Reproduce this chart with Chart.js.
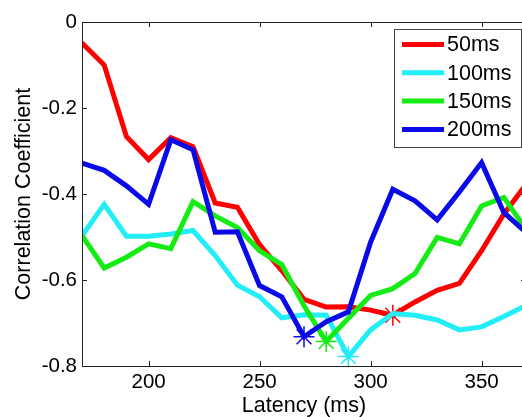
<!DOCTYPE html>
<html>
<head>
<meta charset="utf-8">
<script src="https://cdn.jsdelivr.net/npm/chart.js@4/dist/chart.umd.min.js"></script>
<style>
  html, body { margin: 0; padding: 0; background: #fff; overflow: hidden; }
  #wrap { width: 522px; height: 417px; overflow: hidden; position: relative; }
</style>
</head>
<body>
<div id="wrap"><canvas id="latencyChart" width="540" height="417"></canvas></div>
<script>
// latency (ms) and correlation coefficient per window length
const latency = [170, 180, 190, 200, 210, 220, 230, 240, 250, 260, 270,
                 280, 290, 300, 310, 320, 330, 340, 350, 360, 370];
const corr50  = [-0.049, -0.100, -0.266, -0.320, -0.269, -0.290, -0.421, -0.431, -0.518, -0.578, -0.645,
                 -0.663, -0.662, -0.670, -0.682, -0.651, -0.624, -0.608, -0.532, -0.447, -0.378];
const corr100 = [-0.497, -0.424, -0.498, -0.498, -0.493, -0.485, -0.543, -0.612, -0.639, -0.688, -0.681,
                 -0.682, -0.778, -0.716, -0.678, -0.682, -0.693, -0.716, -0.709, -0.685, -0.659];
const corr150 = [-0.497, -0.572, -0.547, -0.516, -0.527, -0.418, -0.451, -0.478, -0.532, -0.564, -0.660,
                 -0.743, -0.689, -0.636, -0.620, -0.585, -0.501, -0.516, -0.428, -0.408, -0.482];
const corr200 = [-0.328, -0.345, -0.381, -0.424, -0.274, -0.297, -0.489, -0.488, -0.613, -0.639, -0.732,
                 -0.697, -0.674, -0.512, -0.389, -0.416, -0.460, -0.395, -0.327, -0.443, -0.489];

const seriesLabels = ['50ms', '100ms', '150ms', '200ms'];
const seriesValues = [corr50, corr100, corr150, corr200];
const seriesColors = ['#ff0000', '#22eef8', '#14ec14', '#0a0ae8'];

const xTickValues = [200, 250, 300, 350];
const yTickValues = [0, -0.2, -0.4, -0.6, -0.8];

const fontFamily = '"Liberation Sans", Arial, Helvetica, sans-serif';

// index of the lowest value -> star marker there
function minIndex(arr) {
    let k = 0;
    arr.forEach((v, i) => { if (v < arr[k]) k = i; });
    return k;
}

const datasets = seriesLabels.map((label, i) => {
    const mi = minIndex(seriesValues[i]);
    return {
        label: label,
        data: seriesValues[i],
        borderColor: seriesColors[i],
        backgroundColor: seriesColors[i],
        borderWidth: 5,
        tension: 0,
        order: seriesLabels.length - i,
        pointStyle: 'star',
        pointRadius: ctx => ctx.dataIndex === mi ? 10.5 : 0,
        pointBorderWidth: 1.5,
        pointHoverRadius: 0
    };
});

// box around the plot with inward tick marks
const axesBox = {
    id: 'axesBox',
    afterDatasetsDraw(chart) {
        const { ctx, chartArea: a, scales } = chart;
        const tl = 5;
        ctx.save();
        ctx.strokeStyle = '#222';
        ctx.lineWidth = 1;
        ctx.beginPath();
        ctx.rect(Math.round(a.left) + 0.5, Math.round(a.top) + 0.5,
                 Math.round(a.right - a.left), Math.round(a.bottom - a.top));
        xTickValues.forEach(v => {
            const px = Math.round(scales.x.getPixelForValue(v)) + 0.5;
            ctx.moveTo(px, a.bottom); ctx.lineTo(px, a.bottom - tl);
            ctx.moveTo(px, a.top); ctx.lineTo(px, a.top + tl);
        });
        yTickValues.forEach(v => {
            const py = Math.round(scales.y.getPixelForValue(v)) + 0.5;
            ctx.moveTo(a.left, py); ctx.lineTo(a.left + tl, py);
            ctx.moveTo(a.right, py); ctx.lineTo(a.right - tl, py);
        });
        ctx.stroke();
        ctx.restore();
    }
};

// legend box in the upper right corner of the plot
const insideLegend = {
    id: 'insideLegend',
    afterDraw(chart) {
        const { ctx, chartArea: a } = chart;
        const w = 127, h = 118;
        const x0 = a.right - 5 - w, y0 = a.top + 7;
        ctx.save();
        ctx.fillStyle = '#fff';
        ctx.fillRect(x0, y0, w, h);
        ctx.strokeStyle = '#444';
        ctx.lineWidth = 1;
        ctx.strokeRect(Math.round(x0) + 0.5, Math.round(y0) + 0.5, w, h);
        ctx.font = '21.5px ' + fontFamily;
        ctx.textBaseline = 'middle';
        ctx.textAlign = 'left';
        chart.data.datasets.forEach((ds, i) => {
            const y = y0 + 15.5 + i * 28.3;
            ctx.strokeStyle = ds.borderColor;
            ctx.lineWidth = 5;
            ctx.beginPath();
            ctx.moveTo(x0 + 8, y);
            ctx.lineTo(x0 + 50, y);
            ctx.stroke();
            ctx.fillStyle = '#000';
            ctx.fillText(ds.label, x0 + 53, y + 1);
        });
        ctx.restore();
    }
};

new Chart(document.getElementById('latencyChart').getContext('2d'), {
    type: 'line',
    data: { labels: latency, datasets: datasets },
    options: {
        responsive: false,
        animation: false,
        layout: { padding: { top: 22, right: 14, bottom: 0, left: 0 } },
        plugins: { legend: { display: false }, tooltip: { enabled: false } },
        scales: {
            x: {
                type: 'linear',
                min: 170,
                max: 370,
                afterBuildTicks: s => { s.ticks = xTickValues.map(v => ({ value: v })); },
                afterFit: s => { s.height = 51; },
                grid: { drawOnChartArea: false, drawTicks: false },
                border: { display: false },
                ticks: { color: '#000', padding: 4, maxRotation: 0,
                         font: { family: fontFamily, size: 20.5 } },
                title: { display: true, text: 'Latency (ms)', color: '#000',
                         padding: { top: 0, bottom: 0 },
                         font: { family: fontFamily, size: 21.5, lineHeight: 1 } }
            },
            y: {
                min: -0.8,
                max: 0,
                afterBuildTicks: s => { s.ticks = yTickValues.map(v => ({ value: v })); },
                afterFit: s => { s.width = 82; },
                grid: { drawOnChartArea: false, drawTicks: false },
                border: { display: false },
                ticks: { color: '#000', padding: 5,
                         font: { family: fontFamily, size: 20.5 },
                         callback: v => (v === 0 ? '0' : v.toFixed(1)) },
                title: { display: true, text: 'Correlation Coefficient', color: '#000',
                         padding: { top: 13, bottom: 0 },
                         font: { family: fontFamily, size: 21.5, lineHeight: 1 } }
            }
        }
    },
    plugins: [axesBox, insideLegend]
});
</script>
</body>
</html>
